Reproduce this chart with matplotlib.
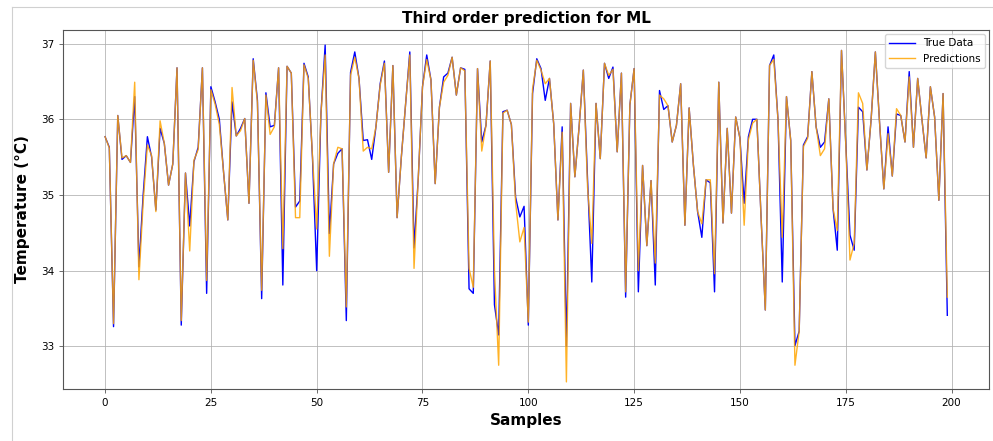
import numpy as np
import matplotlib
matplotlib.use("Agg")
import matplotlib.pyplot as plt
from matplotlib.lines import Line2D

# values
true_data = [
    35.77, 35.63, 33.26, 36.05, 35.47, 35.52, 35.43, 36.30, 34.05, 35.00,
    35.77, 35.50, 34.80, 35.88, 35.68, 35.13, 35.41, 36.68, 33.28, 35.29,
    34.59, 35.44, 35.63, 36.68, 33.70, 36.43, 36.23, 36.00, 35.30, 34.67,
    36.23, 35.78, 35.88, 36.01, 34.89, 36.80, 36.25, 33.63, 36.35, 35.90,
    35.92, 36.68, 33.81, 36.70, 36.61, 34.84, 34.92, 36.74, 36.56, 35.50,
    34.00, 36.07, 36.98, 34.49, 35.41, 35.55, 35.61, 33.34, 36.62, 36.89,
    36.54, 35.72, 35.73, 35.47, 35.90, 36.47, 36.77, 35.30, 36.71, 34.70,
    35.50, 36.20, 36.89, 34.30, 35.22, 36.43, 36.85, 36.52, 35.15, 36.16,
    36.56, 36.61, 36.82, 36.32, 36.68, 36.66, 33.76, 33.70, 36.67, 35.70,
    35.92, 36.77, 33.55, 33.15, 36.10, 36.12, 35.93, 34.97, 34.71, 34.85,
    33.28, 36.34, 36.80, 36.67, 36.25, 36.54, 35.94, 34.67, 35.90, 33.00,
    36.21, 35.24, 35.90, 36.65, 35.20, 33.85, 36.21, 35.48, 36.74, 36.54,
    36.69, 35.57, 36.61, 33.65, 36.19, 36.67, 33.72, 35.39, 34.33, 35.19,
    33.81, 36.38, 36.13, 36.18, 35.70, 35.92, 36.47, 34.60, 36.15, 35.40,
    34.78, 34.44, 35.20, 35.16, 33.72, 36.49, 34.63, 35.88, 34.76, 36.03,
    35.75, 34.89, 35.77, 36.00, 36.00, 34.70, 33.48, 36.71, 36.85, 35.99,
    33.85, 36.30, 35.72, 33.01, 33.20, 35.66, 35.77, 36.63, 35.90, 35.63,
    35.70, 36.27, 34.82, 34.27, 36.91, 35.68, 34.47, 34.27, 36.16, 36.10,
    35.33, 36.00, 36.89, 35.95, 35.08, 35.90, 35.25, 36.07, 36.05, 35.70,
    36.63, 35.63, 36.54, 36.00, 35.49, 36.43, 36.03, 34.93, 36.34, 33.41,
]
predictions = [
    35.77, 35.62, 33.30, 36.05, 35.49, 35.52, 35.43, 36.49, 33.88, 34.90,
    35.66, 35.52, 34.78, 35.98, 35.68, 35.13, 35.41, 36.68, 33.34, 35.29,
    34.26, 35.46, 35.60, 36.68, 33.87, 36.39, 36.20, 35.93, 35.30, 34.67,
    36.42, 35.78, 35.85, 36.01, 34.89, 36.78, 36.22, 33.74, 36.32, 35.80,
    35.90, 36.68, 34.29, 36.70, 36.61, 34.70, 34.70, 36.72, 36.54, 35.52,
    34.55, 36.07, 36.85, 34.19, 35.41, 35.63, 35.61, 33.52, 36.58, 36.82,
    36.54, 35.58, 35.63, 35.61, 35.90, 36.45, 36.74, 35.30, 36.71, 34.70,
    35.50, 36.20, 36.85, 34.03, 35.22, 36.43, 36.79, 36.52, 35.15, 36.16,
    36.49, 36.58, 36.82, 36.32, 36.68, 36.64, 34.03, 33.78, 36.67, 35.58,
    35.92, 36.77, 34.00, 32.75, 36.08, 36.12, 35.93, 34.90, 34.38, 34.57,
    33.32, 36.40, 36.78, 36.65, 36.47, 36.54, 35.94, 34.67, 35.83, 32.53,
    36.21, 35.24, 35.90, 36.65, 35.10, 34.36, 36.21, 35.48, 36.74, 36.58,
    36.66, 35.57, 36.61, 33.72, 36.19, 36.67, 34.00, 35.39, 34.33, 35.19,
    34.10, 36.32, 36.27, 36.18, 35.70, 35.92, 36.47, 34.60, 36.15, 35.40,
    34.78, 34.62, 35.20, 35.20, 33.96, 36.49, 34.63, 35.88, 34.76, 36.03,
    35.75, 34.60, 35.73, 35.95, 36.00, 34.70, 33.48, 36.71, 36.79, 35.99,
    34.44, 36.30, 35.72, 32.75, 33.20, 35.64, 35.75, 36.63, 35.90, 35.52,
    35.61, 36.27, 34.82, 34.53, 36.91, 35.68, 34.14, 34.36, 36.35, 36.21,
    35.33, 36.00, 36.89, 35.95, 35.08, 35.81, 35.25, 36.14, 36.05, 35.70,
    36.56, 35.63, 36.54, 36.00, 35.49, 36.43, 36.03, 34.93, 36.34, 33.65,
]
samples = np.arange(len(true_data))

fig = plt.figure(figsize=(9.93, 4.41), dpi=100)
ax = fig.add_axes([0.0634, 0.1186, 0.933, 0.8134])

ax.plot(samples, true_data, color="blue", lw=1.0, label="True Data")
ax.plot(samples, predictions, color="orange", lw=1.0, alpha=0.85, label="Predictions")

ax.set_ylim(32.44, 37.18)
ax.set_title("Third order prediction for ML", fontsize=11, fontweight="bold", pad=5)
ax.set_xlabel("Samples", fontsize=11, fontweight="bold", labelpad=4)
ax.set_ylabel("Temperature (°C)", fontsize=11, fontweight="bold", labelpad=8)
ax.tick_params(labelsize=7.5, length=3, width=0.6, color="#555555")
ax.grid(True, color="#b0b0b0", lw=0.7, alpha=0.8)
for s in ax.spines.values():
    s.set_color("#555555")
    s.set_linewidth(0.8)
ax.legend(loc="upper right", fontsize=7.5, handlelength=2.5, borderaxespad=0.4)

# light frame line seen on the left/top of the picture
fig.add_artist(Line2D([12/993, 12/993], [0, 1 - 7/441], color="#d0d0d0", lw=0.8))
fig.add_artist(Line2D([12/993, 1], [1 - 7/441, 1 - 7/441], color="#d0d0d0", lw=0.8))

fig.savefig("out.png", dpi=100)
